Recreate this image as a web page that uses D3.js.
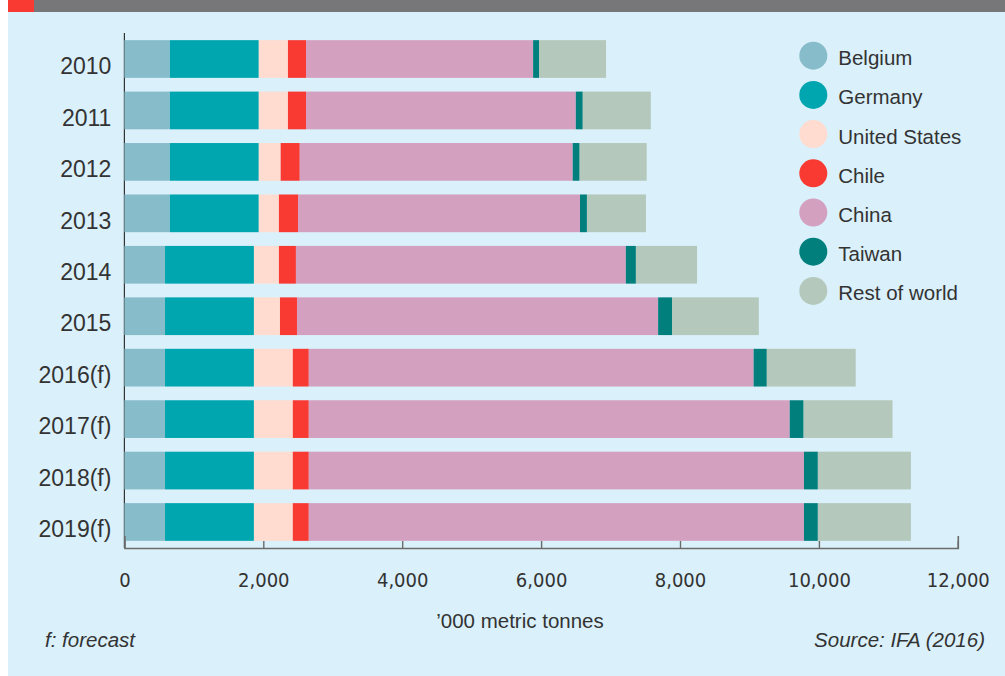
<!DOCTYPE html>
<html>
<head>
<meta charset="utf-8">
<script src="https://cdn.jsdelivr.net/npm/d3@7"></script>
<style>
  body { margin: 0; background: #fff; }
  svg { display: block; font-family: "Liberation Sans", Arial, sans-serif; }
  text { fill: #333; }
</style>
</head>
<body>
<svg id="chart"></svg>
<script>
// values in '000 metric tonnes
const years = ["2010","2011","2012","2013","2014","2015","2016(f)","2017(f)","2018(f)","2019(f)"]
const countries = ["Belgium","Germany","United States","Chile","China","Taiwan","Rest of world"]
const belgium      = [655, 655, 655, 655, 585, 585, 585, 585, 585, 585]
const germany      = [1280, 1280, 1280, 1280, 1280, 1280, 1280, 1280, 1280, 1280]
const unitedStates = [420, 420, 315, 290, 360, 375, 560, 560, 560, 560]
const chile        = [260, 260, 275, 275, 245, 245, 230, 230, 230, 230]
const china        = [3270, 3885, 3930, 4060, 4750, 5200, 6405, 6925, 7130, 7130]
const taiwan       = [85, 100, 100, 100, 145, 200, 190, 200, 200, 200]
const restOfWorld  = [965, 980, 965, 850, 880, 1250, 1280, 1280, 1340, 1340]
const xTicks = [0, 2000, 4000, 6000, 8000, 10000, 12000]
const colors = ["#87bccb", "#00a6af", "#ffdccf", "#f93a33", "#d4a0c0", "#007f7d", "#b4c8bb"]

const W = 1005, H = 676;
const series = [belgium, germany, unitedStates, chile, china, taiwan, restOfWorld]
const table = years.map((y, i) => {
  let row = { year: y }
  countries.forEach((c, j) => row[c] = series[j][i])
  return row
})

let svg = d3.select("#chart").attr("width", W).attr("height", H)

// panel + header strip
svg.append("rect").attr("x", 8).attr("y", 0).attr("width", W - 8).attr("height", H).attr("fill", "#daf0fa")
svg.append("rect").attr("x", 8).attr("y", 0).attr("width", W - 8).attr("height", 12).attr("fill", "#77777a")
svg.append("rect").attr("x", 8).attr("y", 0).attr("width", 26).attr("height", 12).attr("fill", "#f93a33")

let x = d3.scaleLinear().domain([0, 12000]).range([124.4, 957.8])
let y = d3.scaleBand().domain(years).range([33, 548]).paddingInner(0.267).paddingOuter(0.139)
let color = d3.scaleOrdinal().domain(countries).range(colors)

// y axis line
svg.append("line")
  .attr("x1", x(0)).attr("x2", x(0))
  .attr("y1", 33).attr("y2", 548)
  .attr("stroke", "#333").attr("stroke-width", 1.2)

let stack = d3.stack().keys(countries)(table)

svg.append("g")
  .selectAll("g")
  .data(stack)
  .enter().append("g")
  .attr("fill", d => color(d.key))
  .selectAll("rect")
  .data(d => d)
  .enter().append("rect")
  .attr("x", d => x(d[0]))
  .attr("y", d => y(d.data.year))
  .attr("width", d => x(d[1]) - x(d[0]))
  .attr("height", y.bandwidth())

// year labels
let yAxis = svg.append("g")
  .attr("transform", "translate(" + x(0) + ",0)")
  .call(d3.axisLeft(y).tickSize(0).tickPadding(13))
yAxis.select(".domain").remove()
yAxis.selectAll("text")
  .attr("dy", "0.66em")
  .style("font-size", "23px")
  .style("font-family", "\"Liberation Sans\", Arial, sans-serif")
  .attr("fill", "#333")

// x axis, ticks pointing up, labels below
let xAxis = svg.append("g")
  .attr("transform", "translate(0,548)")
  .call(d3.axisBottom(x)
    .tickValues(xTicks)
    .tickFormat(d3.format(","))
    .tickSizeInner(-7)
    .tickSizeOuter(-12)
    .tickPadding(25))
xAxis.select(".domain").attr("stroke", "#6b6b6b").attr("stroke-width", 1.6)
xAxis.selectAll(".tick line").attr("stroke", "#6b6b6b").attr("stroke-width", 1.4)
xAxis.selectAll("text")
  .style("font-size", "20px")
  .style("font-family", "\"DejaVu Sans Condensed\", \"Liberation Sans\", Arial, sans-serif")
  .attr("fill", "#333")

svg.append("text")
  .attr("x", 520).attr("y", 628)
  .attr("text-anchor", "middle")
  .style("font-size", "20.5px")
  .text("\u2019000 metric tonnes")

// legend
let legend = svg.append("g")
  .selectAll("g")
  .data(countries)
  .enter().append("g")
  .attr("transform", (d, i) => "translate(813.3," + (55.7 + i * 39.2) + ")")
legend.append("circle").attr("r", 14).attr("fill", d => color(d))
legend.append("text")
  .attr("x", 25).attr("y", 9.5)
  .style("font-size", "20.5px")
  .text(d => d)

// footer
svg.append("text")
  .attr("x", 45).attr("y", 647)
  .style("font-size", "20.5px").style("font-style", "italic")
  .text("f: forecast")
svg.append("text")
  .attr("x", 985).attr("y", 647)
  .attr("text-anchor", "end")
  .style("font-size", "20.5px").style("font-style", "italic")
  .text("Source: IFA (2016)")
</script>
</body>
</html>
